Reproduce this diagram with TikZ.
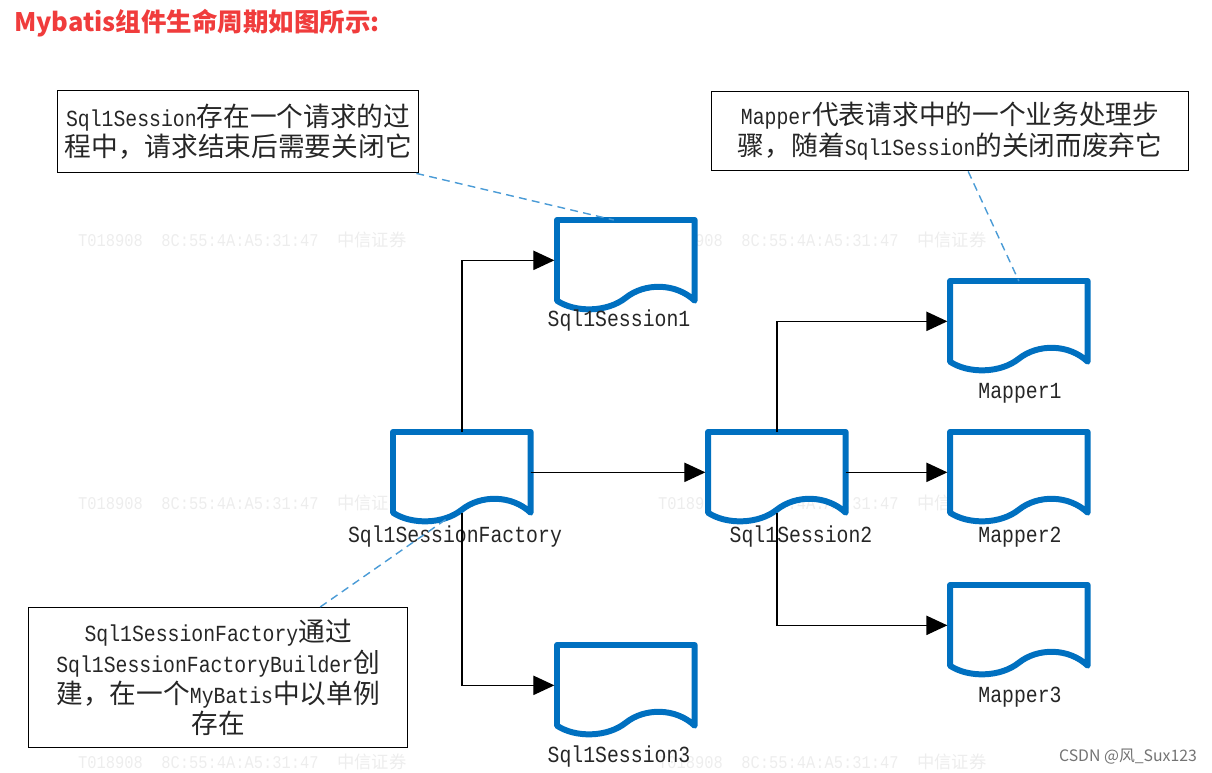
\documentclass[tikz,border=0pt]{standalone}
\usepackage{fontspec}
\setmainfont{Liberation Mono}[FakeStretch=0.86]
\newfontfamily\cjk{Noto Sans CJK SC}[Scale=1.16]
\newfontfamily\titlefont{Noto Sans CJK SC}
\usepackage{tikz}
\usetikzlibrary{calc}
\usetikzlibrary{arrows.meta}
\definecolor{docblue}{RGB}{0,112,192}
\definecolor{noteblue}{RGB}{74,155,214}
\definecolor{titlered}{RGB}{240,60,60}
\tikzset{
docbox/.style={minimum width=2.74cm, minimum height=1.6cm, inner sep=0pt, anchor=north west},
docline/.style={docblue, fill=white, line width=3.4pt, line join=round, line cap=round},
conn/.style={black, line width=0.8pt, shorten >=1.5pt, -{Triangle[length=12pt, width=11pt]}},
note/.style={draw, line width=0.8pt, inner sep=0pt, anchor=north west, align=center, text=black!85,
  font=\fontsize{13.1}{17.4}\selectfont},
lbl/.style={font=\fontsize{13.1}{15}\selectfont, text=black!85},
notelink/.style={noteblue, line width=0.8pt, dash pattern=on 4.5pt off 3pt},
wmark/.style={anchor=west, text=black!7, font=\fontsize{10.2}{11}\selectfont}
}

\begin{document}
\begin{tikzpicture}[x=0.02cm, y=-0.02cm]

\useasboundingbox (0,0) rectangle (1212,773);

% watermark
\foreach \wy in {240,503,762} {\foreach \wx in {72,652} {\node [wmark] (wm-\wx-\wy) at (\wx,\wy) {T018908\ \ 8C:55:4A:A5:31:47\ \ {\cjk\fontsize{8.5}{11}\selectfont 中信证券}};}}

\node [anchor=west, text=titlered, font=\fontsize{14.5}{16}\selectfont\titlefont\bfseries] (title) at (8,23) {Mybatis组件生命周期如图所示:};

\node [docbox] (sf) at (393,432) {};
\node [docbox] (ss1) at (557,220) {};
\node [docbox] (ss2) at (708,432) {};
\node [docbox] (ss3) at (557,645) {};
\node [docbox] (mp1) at (950,281) {};
\node [docbox] (mp2) at (950,432) {};
\node [docbox] (mp3) at (950,585) {};

\foreach \d in {sf,ss1,ss2,ss3,mp1,mp2,mp3} {\draw [docline] (\d.south west) -- (\d.north west) -- (\d.north east) -- (\d.south east)
  .. controls ($(\d.south east)+(-19,-18)$) and ($(\d.south east)+(-50,-18)$) .. ($(\d.south)+(0,-3)$)
  .. controls ($(\d.south west)+(50,12)$) and ($(\d.south west)+(18,12)$) .. cycle;}

\node [lbl] (sf-l) at (455,537) {Sql1SessionFactory};
\node [lbl] (ss1-l) at (619,321) {Sql1Session1};
\node [lbl] (ss2-l) at (801,537) {Sql1Session2};
\node [lbl] (ss3-l) at (619,757) {Sql1Session3};
\node [lbl] (mp1-l) at (1020,393) {Mapper1};
\node [lbl] (mp2-l) at (1020,537) {Mapper2};
\node [lbl] (mp3-l) at (1020,697) {Mapper3};

\draw [conn] (sf.north) |- (ss1.west);
\draw [conn] (sf.east) -- (ss2.west);
\draw [conn] (sf.south) |- (ss3.west);
\draw [conn] (ss2.north) |- (mp1.west);
\draw [conn] (ss2.east) -- (mp2.west);
\draw [conn] (ss2.south) |- (mp3.west);

\node [note, minimum width=7.22cm, minimum height=1.64cm] (n1) at (57,90)
  {Sql1Session{\cjk 存在一个请求的过}\\{\cjk 程中，请求结束后需要关闭它}};
\node [note, minimum width=9.54cm, minimum height=1.58cm] (n2) at (711,91)
  {Mapper{\cjk 代表请求中的一个业务处理步}\\{\cjk 骤，随着}Sql1Session{\cjk 的关闭而废弃它}};
\node [note, minimum width=7.58cm, minimum height=2.8cm] (n3) at (28,607)
  {Sql1SessionFactory{\cjk 通过}\\Sql1SessionFactoryBuilder{\cjk 创}\\{\cjk 建，在一个}MyBatis{\cjk 中以单例}\\{\cjk 存在}};

\draw [notelink] ($(n1.south east)+(-3,0)$) -- ($(ss1.north)+(-12,0)$);
\draw [notelink] ($(n2.south)+(18,0)$) -- (mp1.north);
\draw [notelink] ($(n3.north)+(102,0)$) -- ($(sf.south)+(-12,4)$);

\node [text=black!55, font=\fontsize{9}{11}\selectfont\titlefont] (csdn) at (1128,757) {CSDN @风\_Sux123};

\end{tikzpicture}
\end{document}
